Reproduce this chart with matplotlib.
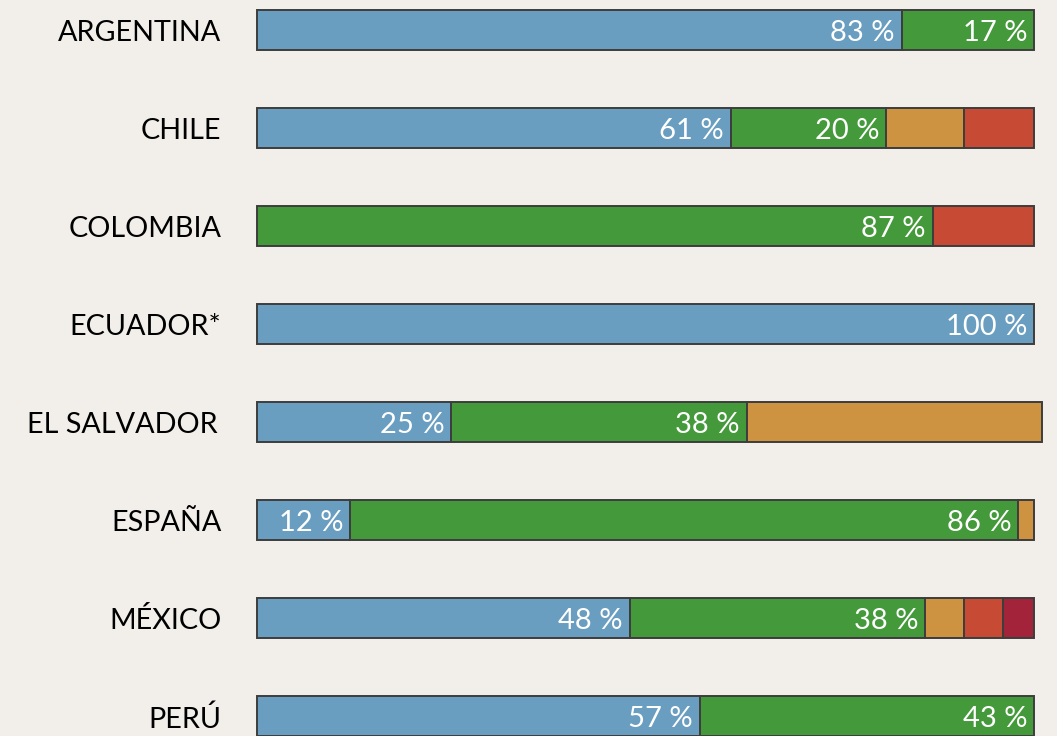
import numpy as np
import matplotlib.pyplot as plt

countries = ["ARGENTINA", "CHILE", "COLOMBIA", "ECUADOR*", "EL SALVADOR\u2009",
             "ESPAÑA", "MÉXICO", "PERÚ"]
blue = [83, 61, 0, 100, 25, 12, 48, 57]
green = [17, 20, 87, 0, 38, 86, 38, 43]
orange = [0, 10, 0, 0, 38, 2, 5, 0]
red = [0, 9, 13, 0, 0, 0, 5, 0]
darkred = [0, 0, 0, 0, 0, 0, 4, 0]

series = [blue, green, orange, red, darkred]
colors = ["#6a9ec0", "#44993a", "#cd9340", "#c74a34", "#a3233a"]
labelled = [True, True, False, False, False]

bg = "#f2efea"
plt.rcParams['font.family'] = ['Lato', 'DejaVu Sans']

fig = plt.figure(figsize=(10.57, 7.36), dpi=100, facecolor=bg)
ax = fig.add_axes([257/1057, 0, 777/1057, 1])
ax.set_facecolor(bg)

y = np.arange(len(countries))
left = np.zeros(len(countries))
for vals, col, lab in zip(series, colors, labelled):
    vals = np.array(vals, dtype=float)
    bars = ax.barh(y, vals, left=left, height=0.41, color=col,
                   edgecolor="#3d3d3d", linewidth=1.4, clip_on=False)
    for i, v in enumerate(vals):
        if v == 0:
            bars[i].set_visible(False)
        elif lab:
            ax.text(left[i] + v - 0.9, y[i] + 0.03, f"{int(v)} %", color="white",
                    ha="right", va="center", fontsize=21)
    left += vals

for i, c in enumerate(countries):
    ax.text(-4.6, y[i] + 0.03, c, ha="right", va="center", fontsize=20.7,
            color="#000000")

ax.set_xlim(0, 100)
ax.set_ylim((736 - 30) / 98, -30 / 98)
ax.axis("off")

fig.savefig("out.png", dpi=100, facecolor=bg)
